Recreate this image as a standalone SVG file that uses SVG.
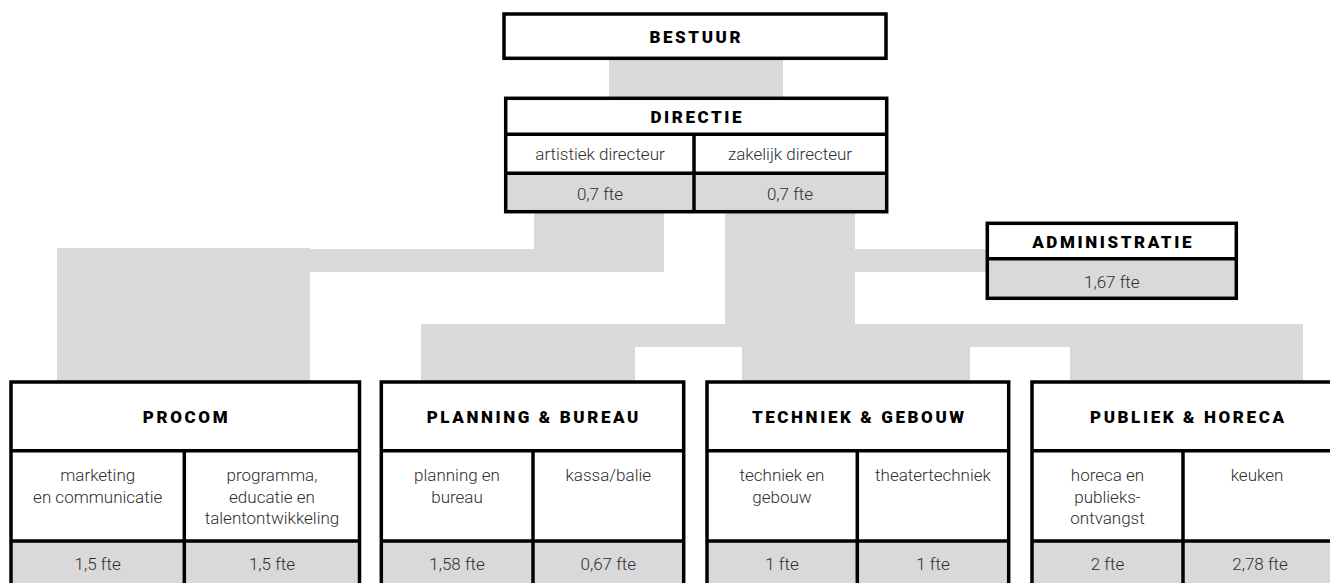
<svg xmlns="http://www.w3.org/2000/svg" width="1330" height="583" viewBox="0 0 1330 583">
<style>
.bg{fill:#ffffff}
.conn{fill:#d9d9d9}
.cell{fill:#ffffff}
.fte{fill:#d9d9d9}
.ln{stroke:#000;stroke-width:3.5;fill:none}
.t{font-family:Roboto,"Liberation Sans",sans-serif;font-weight:900;font-size:17px;letter-spacing:2.6px;fill:#000;text-anchor:middle}
.b{font-family:Roboto,"Liberation Sans",sans-serif;font-weight:300;font-size:17px;fill:#2e2e2e;text-anchor:middle}
</style>
<rect class="bg" x="0" y="0" width="1330" height="583"/>
<g id="connectors">
<rect class="conn" x="609" y="58" width="174" height="40"/>
<rect class="conn" x="534" y="211" width="130" height="61"/>
<rect class="conn" x="310" y="249" width="354" height="23"/>
<rect class="conn" x="57" y="248" width="253" height="134"/>
<rect class="conn" x="725" y="211" width="130" height="114"/>
<rect class="conn" x="855" y="249" width="132" height="23"/>
<rect class="conn" x="421" y="324" width="882" height="23"/>
<rect class="conn" x="421" y="346" width="214" height="36"/>
<rect class="conn" x="742" y="346" width="228" height="36"/>
<rect class="conn" x="1070" y="346" width="233" height="36"/>
</g>
<g id="bestuur">
<rect class="cell" x="504" y="14" width="382" height="44.3"/>
<rect class="ln" x="504" y="14" width="382" height="44.3"/>
<text class="t" x="696.3" y="43">BESTUUR</text>
</g>
<g id="directie">
<rect class="cell" x="505.7" y="98.3" width="381" height="75"/>
<rect class="fte" x="505.7" y="173.3" width="381" height="38.4"/>
<rect class="ln" x="505.7" y="98.3" width="381" height="113.4"/>
<line class="ln" x1="505.7" y1="134.3" x2="886.7" y2="134.3"/>
<line class="ln" x1="505.7" y1="173.3" x2="886.7" y2="173.3"/>
<line class="ln" x1="694" y1="134.3" x2="694" y2="211.7"/>
<text class="t" x="697.3" y="122.5">DIRECTIE</text>
<text class="b" x="600" y="159.5">artistiek directeur</text>
<text class="b" x="790" y="159.5">zakelijk directeur</text>
<text class="b" x="600" y="200">0,7 fte</text>
<text class="b" x="790" y="200">0,7 fte</text>
</g>
<g id="administratie">
<rect class="cell" x="987.3" y="223.3" width="249" height="35.4"/>
<rect class="fte" x="987.3" y="258.7" width="249" height="39.6"/>
<rect class="ln" x="987.3" y="223.3" width="249" height="75"/>
<line class="ln" x1="987.3" y1="258.7" x2="1236.3" y2="258.7"/>
<text class="t" x="1113.1" y="248">ADMINISTRATIE</text>
<text class="b" x="1111.8" y="288">1,67 fte</text>
</g>
<g id="procom">
<rect class="cell" x="11" y="382" width="348.5" height="159"/>
<rect class="fte" x="11" y="541" width="348.5" height="60"/>
<rect class="ln" x="11" y="382" width="348.5" height="219"/>
<line class="ln" x1="11" y1="450.7" x2="359.5" y2="450.7"/>
<line class="ln" x1="11" y1="541" x2="359.5" y2="541"/>
<line class="ln" x1="184.3" y1="450.7" x2="184.3" y2="601"/>
<text class="t" x="186.5" y="423">PROCOM</text>
<text class="b" x="97.7" y="481">marketing</text>
<text class="b" x="97.7" y="502.5">en communicatie</text>
<text class="b" x="272" y="481">programma,</text>
<text class="b" x="272" y="502.5">educatie en</text>
<text class="b" x="272" y="524">talentontwikkeling</text>
<text class="b" x="97.7" y="570">1,5 fte</text>
<text class="b" x="272" y="570">1,5 fte</text>
</g>
<g id="planning">
<rect class="cell" x="381.3" y="382" width="302.4" height="159"/>
<rect class="fte" x="381.3" y="541" width="302.4" height="60"/>
<rect class="ln" x="381.3" y="382" width="302.4" height="219"/>
<line class="ln" x1="381.3" y1="450.7" x2="683.7" y2="450.7"/>
<line class="ln" x1="381.3" y1="541" x2="683.7" y2="541"/>
<line class="ln" x1="533" y1="450.7" x2="533" y2="601"/>
<text class="t" x="533.8" y="423">PLANNING &amp; BUREAU</text>
<text class="b" x="457" y="481">planning en</text>
<text class="b" x="457" y="502.5">bureau</text>
<text class="b" x="608.3" y="481">kassa/balie</text>
<text class="b" x="457" y="570">1,58 fte</text>
<text class="b" x="608.3" y="570">0,67 fte</text>
</g>
<g id="techniek">
<rect class="cell" x="707" y="382" width="301.7" height="159"/>
<rect class="fte" x="707" y="541" width="301.7" height="60"/>
<rect class="ln" x="707" y="382" width="301.7" height="219"/>
<line class="ln" x1="707" y1="450.7" x2="1008.7" y2="450.7"/>
<line class="ln" x1="707" y1="541" x2="1008.7" y2="541"/>
<line class="ln" x1="857.3" y1="450.7" x2="857.3" y2="601"/>
<text class="t" x="859.3" y="423">TECHNIEK &amp; GEBOUW</text>
<text class="b" x="782" y="481">techniek en</text>
<text class="b" x="782" y="502.5">gebouw</text>
<text class="b" x="933" y="481">theatertechniek</text>
<text class="b" x="782" y="570">1 fte</text>
<text class="b" x="933" y="570">1 fte</text>
</g>
<g id="publiek">
<rect class="cell" x="1032" y="382" width="311" height="159"/>
<rect class="fte" x="1032" y="541" width="311" height="60"/>
<rect class="ln" x="1032" y="382" width="311" height="219"/>
<line class="ln" x1="1032" y1="450.7" x2="1343" y2="450.7"/>
<line class="ln" x1="1032" y1="541" x2="1343" y2="541"/>
<line class="ln" x1="1183" y1="450.7" x2="1183" y2="601"/>
<text class="t" x="1188.3" y="423">PUBLIEK &amp; HORECA</text>
<text class="b" x="1107.5" y="481">horeca en</text>
<text class="b" x="1107.5" y="502.5">publieks-</text>
<text class="b" x="1107.5" y="524">ontvangst</text>
<text class="b" x="1257" y="481">keuken</text>
<text class="b" x="1107.5" y="570">2 fte</text>
<text class="b" x="1260" y="570">2,78 fte</text>
</g>
</svg>
